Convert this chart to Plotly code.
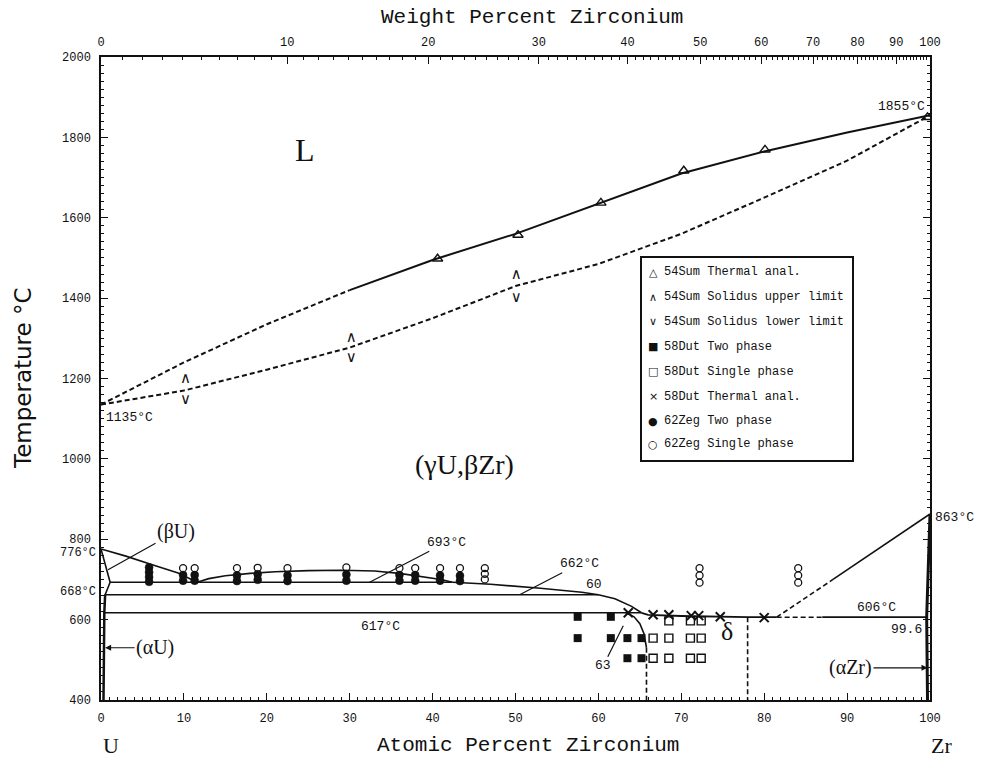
import plotly.graph_objects as go

# ---------------- data ----------------
at_ticks = list(range(0, 101, 10))
temp_ticks = list(range(400, 2001, 200))
wt_ticks = list(range(0, 101, 10))

# liquidus (dashed part, solid part) and solidus
liq_dash_x = [0, 10, 20, 30]
liq_dash_T = [1135, 1240, 1335, 1420]
liq_x = [30, 40, 50, 60, 70, 80, 90, 100]
liq_T = [1420, 1495, 1560, 1635, 1710, 1765, 1812, 1855]
sol_x = [0, 10, 20, 30, 40, 50, 60, 70, 80, 90, 100]
sol_T = [1135, 1170, 1222, 1277, 1350, 1430, 1485, 1560, 1650, 1742, 1855]

# low temperature boundaries
gb_x = [0, 3, 6, 9.3, 11.6]                      # gamma / (betaU+gamma)
gb_T = [776, 758, 738, 716, 693]
gap_x = [11.6, 13, 15, 18, 21, 25, 29, 33, 36, 39, 41, 42.4]   # gamma1+gamma2 gap
gap_T = [693, 702, 709, 715, 719, 722, 723, 721, 715, 707, 700, 693]
g2_x = [42.4, 47, 53, 58, 60, 62, 64, 65.2]      # gamma2 boundary
g2_T = [693, 688, 678, 668, 662, 652, 633, 617]
bu_x = [0, 1.1, 0.5]
bu_T = [776, 693, 662]
au_x = [0.5, 0.4, 0.3]
au_T = [662, 617, 400]
iso693_x = [1.1, 42.4]
iso693_T = [693, 693]
iso662_x = [0.4, 60]
iso662_T = [662, 662]
iso617_x = [0.3, 65.2]
iso617_T = [617, 617]
dtop_x = [65.2, 66, 70, 74, 78, 81.5]
dtop_T = [617, 612, 609, 607, 606, 606]
darc_x = [63.3, 64.3, 65.0, 65.5, 65.8]
darc_T = [617, 607, 590, 565, 530]
dleft_x = [65.8, 65.8]
dleft_T = [530, 400]
dright_x = [78, 78]
dright_T = [606, 400]
iso606_dash_x = [81.5, 87]
iso606_dash_T = [606, 606]
iso606_x = [87, 99.6]
iso606_T = [606, 606]
bzr_dash_x = [81.5, 88.3]
bzr_dash_T = [606, 700]
bzr_x = [88.3, 100]
bzr_T = [700, 863]
azr_x = [99.7, 99.6, 100]
azr_T = [400, 606, 863]

# experimental points
sum_th_x = [40.6, 50.3, 60.3, 70.3, 80.1, 99.7]
sum_th_T = [1498, 1557, 1637, 1717, 1769, 1850]
sum_up_x = [10.2, 30.2, 50.1]
sum_up_T = [1197, 1300, 1458]
sum_lo_x = [10.2, 30.2, 50.1]
sum_lo_T = [1147, 1250, 1400]
dut_two_x = [57.5, 61.5, 57.5, 61.5, 63.5, 65.2, 63.5, 65.2]
dut_two_T = [607, 607, 554, 554, 554, 554, 504, 504]
dut_one_x = [68.5, 71.1, 72.4, 66.6, 68.5, 71.1, 72.4, 66.6, 68.5, 71.1, 72.4]
dut_one_T = [597, 597, 597, 554, 554, 554, 554, 504, 504, 504, 504]
dut_th_x = [63.6, 66.6, 68.5, 71.2, 72.1, 74.7, 80.0]
dut_th_T = [617, 612, 612, 610, 610, 607, 605]
zeg_two_x = [5.8, 5.8, 5.8, 5.8,
             9.9, 9.9, 11.3, 11.3, 16.4, 16.4, 18.9, 18.9, 22.5, 22.5,
             29.6, 29.6, 36.0, 36.0, 37.9, 37.9, 40.9, 40.9, 43.3, 43.3]
zeg_two_T = [730, 718, 706, 694,
             711, 697, 711, 697, 710, 696, 713, 699, 710, 696,
             712, 697, 711, 697, 711, 697, 710, 697, 709, 696]
zeg_one_x = [9.9, 11.3, 16.4, 18.9, 22.5, 29.6, 36.0, 37.9, 40.9, 43.3,
             46.3, 46.3, 46.3, 72.2, 72.2, 72.2, 84.1, 84.1, 84.1]
zeg_one_T = [728, 728, 728, 729, 728, 730, 728, 728, 728, 728,
             728, 714, 700, 728, 710, 692, 728, 710, 692]

legend_labels = ["54Sum Thermal anal.", "54Sum Solidus upper limit",
                 "54Sum Solidus lower limit", "58Dut Two phase",
                 "58Dut Single phase", "58Dut Thermal anal.",
                 "62Zeg Two phase", "62Zeg Single phase"]
legend_glyphs = ["△", "∧", "∨", "■", "□", "×", "●", "○"]

# ---------------- helpers ----------------
M_ZR, M_U = 91.224, 238.029


def wt_to_at(w):
    a = w / M_ZR
    b = (100 - w) / M_U
    return 100 * a / (a + b)


L, R, T, B = 101, 930, 57, 700


def pxx(p):
    return (p - L) / (R - L)


def pxy(p):
    return (B - p) / (B - T)


INK = "#111111"
MONO = "Liberation Mono"
SERIF = "Liberation Serif"
DASH = "5px,3px"

fig = go.Figure()


def line(x, y, dash=None, width=2):
    fig.add_trace(go.Scatter(x=x, y=y, mode="lines",
                             line=dict(color=INK, width=width, dash=dash),
                             hoverinfo="skip", showlegend=False))


line(liq_dash_x, liq_dash_T, DASH)
line(liq_x, liq_T)
line(sol_x, sol_T, DASH)
line(gb_x, gb_T, width=1.6)
line(gap_x, gap_T, width=1.6)
line(g2_x, g2_T, width=1.6)
line(bu_x, bu_T, width=1.6)
line(au_x, au_T, width=2.5)
line(iso693_x, iso693_T, width=1.6)
line(iso662_x, iso662_T, width=1.6)
line(iso617_x, iso617_T, width=1.6)
line(dtop_x, dtop_T, width=1.8)
line(darc_x, darc_T, width=1.6)
line(dleft_x, dleft_T, DASH, 1.6)
line(dright_x, dright_T, DASH, 1.6)
line(iso606_dash_x, iso606_dash_T, DASH, 1.6)
line(iso606_x, iso606_T, width=1.8)
line(bzr_dash_x, bzr_dash_T, DASH, 1.6)
line(bzr_x, bzr_T, width=1.6)
line(azr_x, azr_T, width=3)


def pts(x, y, symbol, size, lw=1.4):
    fig.add_trace(go.Scatter(x=x, y=y, mode="markers",
                             marker=dict(symbol=symbol, size=size, color=INK,
                                         line=dict(color=INK, width=lw)),
                             hoverinfo="skip", showlegend=False))


pts(sum_th_x, sum_th_T, "triangle-up-open", 9)
fig.add_trace(go.Scatter(x=sum_up_x, y=sum_up_T, mode="text", text=["∧"] * len(sum_up_x),
                         textfont=dict(family="DejaVu Sans", size=15, color=INK),
                         hoverinfo="skip", showlegend=False))
fig.add_trace(go.Scatter(x=sum_lo_x, y=sum_lo_T, mode="text", text=["∨"] * len(sum_lo_x),
                         textfont=dict(family="DejaVu Sans", size=15, color=INK),
                         hoverinfo="skip", showlegend=False))
pts(dut_two_x, dut_two_T, "square", 8, 0)
pts(dut_one_x, dut_one_T, "square-open", 8)
pts(dut_th_x, dut_th_T, "x-thin-open", 9, 2)
pts(zeg_two_x, zeg_two_T, "circle", 8, 0.5)
pts(zeg_one_x, zeg_one_T, "circle-open", 7, 1.3)

# dummy trace for the top (weight percent) axis
fig.add_trace(go.Scatter(x=[0, 100], y=[None, None], xaxis="x2", mode="lines",
                         hoverinfo="skip", showlegend=False))

tickfont = dict(family=MONO, size=12, color=INK)
fig.update_layout(
    width=987, height=761,
    margin=dict(l=L, r=987 - R, t=T, b=761 - B),
    paper_bgcolor="white", plot_bgcolor="white",
    showlegend=False,
    xaxis=dict(range=[0, 100], tickvals=at_ticks, ticks="inside", ticklen=7,
               tickwidth=1.2, tickcolor=INK, showline=True, linecolor=INK,
               linewidth=1.5, showgrid=False, zeroline=False, tickfont=tickfont,
               ticklabelstandoff=6,
               minor=dict(dtick=1, ticks="inside", ticklen=3, tickcolor=INK,
                          tickwidth=1)),
    xaxis2=dict(range=[0, 100], overlaying="x", side="top", anchor="y",
                tickvals=[wt_to_at(w) for w in wt_ticks],
                ticktext=[str(w) for w in wt_ticks],
                ticks="inside", ticklen=7, tickwidth=1.2, tickcolor=INK,
                showline=True, linecolor=INK, linewidth=1.5, showgrid=False,
                zeroline=False, tickfont=tickfont, ticklabelstandoff=4,
                minor=dict(tickvals=[wt_to_at(w) for w in range(1, 100) if w % 10],
                           ticks="inside", ticklen=3, tickcolor=INK, tickwidth=1)),
    yaxis=dict(range=[400, 2000], tickvals=temp_ticks, ticks="inside", ticklen=7,
               tickwidth=1.2, tickcolor=INK, showline=True, linecolor=INK,
               linewidth=1.5, mirror="ticks", showgrid=False, zeroline=False,
               tickfont=tickfont, ticklabelstandoff=6,
               minor=dict(dtick=20, ticks="inside", ticklen=3, tickcolor=INK,
                          tickwidth=1)),
)

ann = []


def txt(text, x, y, size=13, family=MONO, xref="x", yref="y", xanchor="center",
        yanchor="middle", **kw):
    d = dict(text=text, x=x, y=y, xref=xref, yref=yref, showarrow=False,
             xanchor=xanchor, yanchor=yanchor,
             font=dict(family=family, size=size, color=INK))
    d.update(kw)
    ann.append(d)


def ptr(text, x, y, ax, ay, head=0, size=13, family=MONO):
    ann.append(dict(text=text, x=x, y=y, xref="x", yref="y", showarrow=True,
                    ax=ax, ay=ay, axref="pixel", ayref="pixel",
                    arrowhead=head, arrowsize=1, arrowwidth=1.2,
                    arrowcolor=INK, standoff=0, startstandoff=0,
                    font=dict(family=family, size=size, color=INK)))


# axis titles and element symbols
txt("Weight Percent Zirconium", 0.5 * (pxx(380) + pxx(683)), pxy(17), size=21,
    xref="paper", yref="paper")
txt("Atomic Percent Zirconium", 0.5 * (pxx(375) + pxx(680)), pxy(745), size=21,
    xref="paper", yref="paper")
txt("Temperature °C", pxx(23), pxy(378), size=23, family="DejaVu Sans",
    xref="paper", yref="paper", textangle=-90)
txt("U", pxx(111), pxy(745), size=22, family=SERIF, xref="paper", yref="paper")
txt("Zr", pxx(941), pxy(745), size=22, family=SERIF, xref="paper", yref="paper")

# phase labels
txt("L", 24.6, 1769, size=32, family=SERIF)
txt("(γU,βZr)", 43.9, 985, size=28, family=SERIF)
txt("δ", 75.5, 570, size=26, family=SERIF)

# temperature / composition labels
txt("776°C", pxx(98), 776, size=12, xref="paper", xanchor="right", yshift=-4)
txt("668°C", pxx(98), 668, size=12, xref="paper", xanchor="right")
txt("1135°C", 0.4, 1104, xanchor="left")
txt("1855°C", 99.6, 1876, xanchor="right")
txt("863°C", 100, 853, xanchor="left", xshift=3)
txt("617°C", 33.7, 582)
txt("606°C", 93.5, 629)
txt("99.6", 97.2, 575)
txt("60", 59.5, 687)
ptr("693°C", 32.4, 693, 77, -40)
ptr("662°C", 50.5, 662, 60, -31)
ptr("63", 63.0, 585, -20, 40)
ptr("(βU)", 0.85, 724, 68, -38, size=20, family=SERIF)
ptr("(αU)", 0.5, 530, 50, 0, head=2, size=20, family=SERIF)
ptr("(αZr)", 99.7, 480, -77, 0, head=2, size=20, family=SERIF)

# legend (boxed key)
rows = [272, 297, 322, 347, 372, 397, 421, 444]
for g, lab, r in zip(legend_glyphs, legend_labels, rows):
    txt(g, pxx(653), pxy(r), size=11, family="DejaVu Sans",
        xref="paper", yref="paper")
    txt(lab, pxx(662), pxy(r), size=12, xref="paper", yref="paper",
        xanchor="left")

fig.update_layout(annotations=ann)
fig.add_shape(type="rect", xref="paper", yref="paper",
              x0=pxx(641), x1=pxx(853), y0=pxy(461), y1=pxy(257),
              line=dict(color=INK, width=2), fillcolor="white", layer="above")

fig.write_html("out.html")
